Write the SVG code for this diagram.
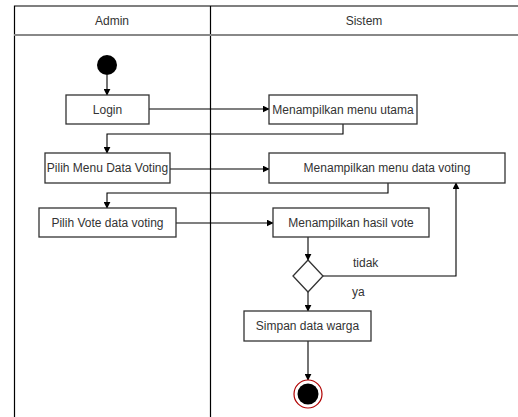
<svg xmlns="http://www.w3.org/2000/svg" width="518" height="417" viewBox="0 0 518 417">
  <defs>
    <marker id="arrow" viewBox="0 0 10 10" refX="9" refY="5" markerWidth="7" markerHeight="7" markerUnits="userSpaceOnUse" orient="auto">
      <path d="M0,0 L10,5 L0,10 Z" fill="#000"/>
    </marker>
  </defs>
  <style>
    .lane { fill: none; stroke: #000; stroke-width: 1.2; }
    .act rect { fill: #fff; stroke: #333; stroke-width: 1.3; }
    text { font-family: "Liberation Sans", Arial, sans-serif; font-size: 12px; fill: #333; }
    .c { text-anchor: middle; dominant-baseline: central; }
    .flow { fill: none; stroke: #000; stroke-width: 1.1; marker-end: url(#arrow); }
  </style>
  <rect width="518" height="417" fill="#fff"/>

  <!-- swimlanes -->
  <g id="lanes">
    <path class="lane" d="M14.5,417 V6 H518"/>
    <line x1="210.5" y1="6" x2="210.5" y2="417" stroke="#000" stroke-width="1.2"/>
    <line x1="14" y1="35" x2="518" y2="35" stroke="#888" stroke-width="2"/>
    <text class="c" x="112" y="21">Admin</text>
    <text class="c" x="364" y="21">Sistem</text>
  </g>

  <!-- connectors -->
  <g id="connectors">
    <path class="flow" d="M107,75 V95"/>
    <path class="flow" d="M149,109 H269"/>
    <path class="flow" d="M343,124 V134 H107 V153"/>
    <path class="flow" d="M170,169 H269"/>
    <path class="flow" d="M388,183 V193 H107 V208"/>
    <path class="flow" d="M176,223 H273"/>
    <path class="flow" d="M308,237 V260"/>
    <path class="flow" d="M323,276 H456 V183"/>
    <path class="flow" d="M308,292 V311"/>
    <path class="flow" d="M308,341 V380"/>
    <text x="353" y="267">tidak</text>
    <text x="352" y="296">ya</text>
  </g>

  <!-- nodes -->
  <g id="start">
    <circle cx="107" cy="65" r="10" fill="#000"/>
  </g>
  <g id="login" class="act">
    <rect x="66" y="95" width="83" height="29"/>
    <text class="c" x="107.5" y="109.5">Login</text>
  </g>
  <g id="menu-utama" class="act">
    <rect x="269" y="95" width="148" height="29"/>
    <text class="c" x="343" y="109.5">Menampilkan menu utama</text>
  </g>
  <g id="pilih-menu" class="act">
    <rect x="45" y="153" width="125" height="30"/>
    <text class="c" x="107.5" y="168">Pilih Menu Data Voting</text>
  </g>
  <g id="menu-data-voting" class="act">
    <rect x="269" y="153" width="236" height="30"/>
    <text class="c" x="387" y="168">Menampilkan menu data voting</text>
  </g>
  <g id="pilih-vote" class="act">
    <rect x="39" y="208" width="137" height="29"/>
    <text class="c" x="107.5" y="222.5">Pilih Vote data voting</text>
  </g>
  <g id="hasil-vote" class="act">
    <rect x="273" y="208" width="156" height="29"/>
    <text class="c" x="351" y="222.5">Menampilkan hasil vote</text>
  </g>
  <g id="decision">
    <path d="M308,260 L323,276 L308,292 L293,276 Z" fill="#fff" stroke="#333" stroke-width="1.3"/>
  </g>
  <g id="simpan" class="act">
    <rect x="244" y="311" width="127" height="30"/>
    <text class="c" x="307.5" y="326">Simpan data warga</text>
  </g>
  <g id="end">
    <circle cx="308" cy="394" r="14" fill="#fff" stroke="#b00000" stroke-width="1.2"/>
    <circle cx="308" cy="394" r="10.5" fill="#000"/>
  </g>
</svg>
